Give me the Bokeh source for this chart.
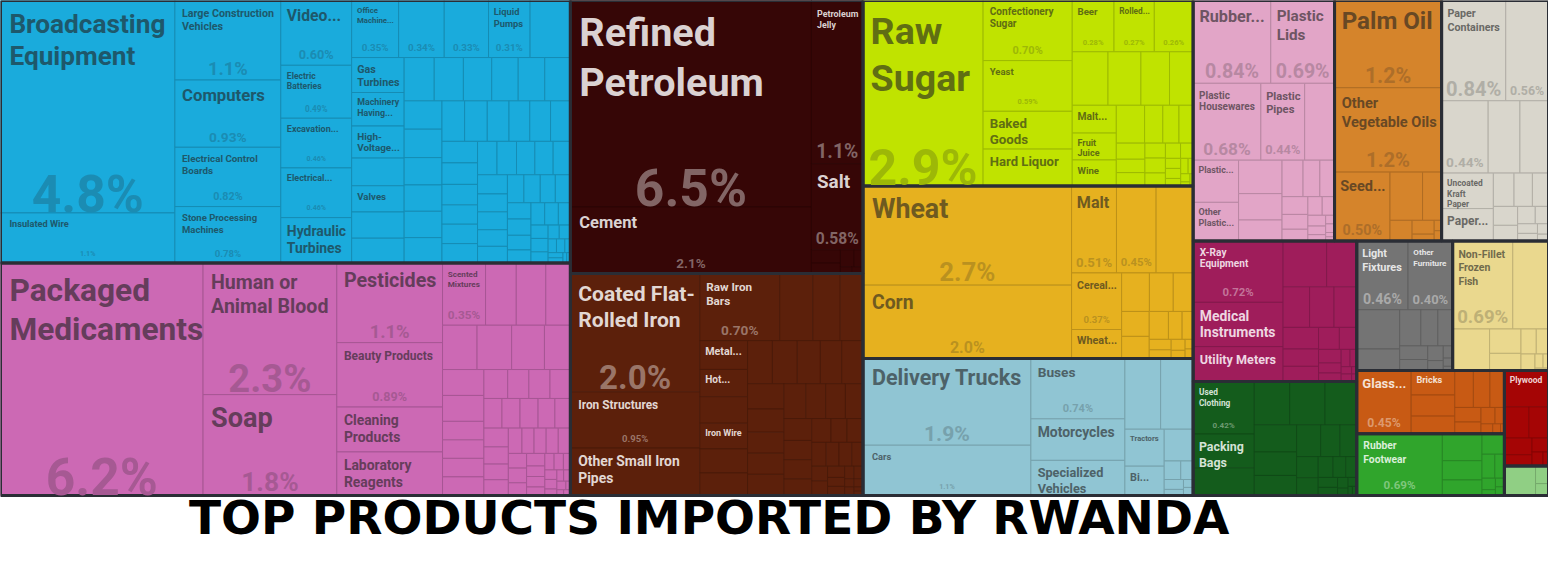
import re
from bokeh.plotting import figure
from bokeh.models import Range1d, ColumnDataSource
from bokeh.core.properties import value
from bokeh.embed import file_html
from bokeh.resources import INLINE

TITLE = "TOP PRODUCTS IMPORTED BY RWANDA"

# ---------------- data: (product, share of imports, %) ----------------
# "" = cell that shows only its share; *_small = unlabeled cells
machines_items = [("Broadcasting Equipment", 4.84), ("Insulated Wire", 1.14),
                  ("Large Construction Vehicles", 1.10), ("Computers", 0.93),
                  ("Electrical Control Boards", 0.82), ("Stone Processing Machines", 0.78),
                  ("Video...", 0.60), ("Electric Batteries", 0.49), ("Excavation...", 0.46),
                  ("Electrical...", 0.46), ("Hydraulic Turbines", 0.42), ("Office Machine...", 0.35),
                  ("", 0.34), ("", 0.33), ("Liquid Pumps", 0.31), ("Gas Turbines", 0.24),
                  ("Machinery Having...", 0.23), ("High-Voltage...", 0.22), ("Valves", 0.18)]
machines_small = [0.30, 0.19, 0.18, 0.17, 0.17, 0.165, 0.16, 0.15, 0.15, 0.145, 0.14, 0.14,
                  0.135, 0.13, 0.13, 0.125, 0.12, 0.12, 0.115, 0.11, 0.11, 0.105, 0.1, 0.1,
                  0.095, 0.09, 0.09, 0.09, 0.085, 0.085, 0.08, 0.08, 0.075, 0.075, 0.07, 0.07,
                  0.065, 0.065, 0.06, 0.06, 0.055, 0.055, 0.05, 0.05, 0.045, 0.04, 0.04, 0.04,
                  0.035, 0.03, 0.03, 0.025, 0.02, 0.02, 0.015, 0.015, 0.01, 0.01, 0.01, 0.005, 0.005]

chemicals_items = [("Packaged Medicaments", 6.15), ("Human or Animal Blood", 2.30), ("Soap", 1.76),
                   ("Pesticides", 1.10), ("Beauty Products", 0.89), ("Cleaning Products", 0.62),
                   ("Laboratory Reagents", 0.60), ("Scented Mixtures", 0.35)]
chemicals_small = [0.25, 0.24, 0.2, 0.2, 0.2, 0.19, 0.15, 0.14, 0.14, 0.1, 0.1, 0.1, 0.1, 0.09,
                   0.08, 0.08, 0.077, 0.07, 0.07, 0.07, 0.065, 0.06, 0.06, 0.055, 0.05, 0.05,
                   0.045, 0.04, 0.04, 0.04, 0.04, 0.035, 0.035, 0.03, 0.03, 0.025, 0.025, 0.02,
                   0.02, 0.02, 0.015, 0.015, 0.015, 0.01, 0.01, 0.01, 0.01, 0.005, 0.005, 0.005]

mineral_items = [("Refined Petroleum", 6.5), ("Cement", 2.1), ("Petroleum Jelly", 1.1), ("Salt", 0.58)]
mineral_small = [0.05, 0.04, 0.03, 0.02, 0.01, 0.01]

metals_items = [("Coated Flat-Rolled Iron", 2.0), ("Iron Structures", 0.95),
                ("Other Small Iron Pipes", 0.80), ("Raw Iron Bars", 0.70), ("Metal...", 0.18),
                ("Hot...", 0.17), ("Iron Wire", 0.16)]
metals_small = [0.29, 0.24, 0.2, 0.165, 0.15, 0.14, 0.14, 0.14, 0.13, 0.12, 0.12, 0.12, 0.11,
                0.1, 0.1, 0.1, 0.1, 0.09, 0.09, 0.08, 0.08, 0.07, 0.07, 0.06, 0.06, 0.05, 0.05,
                0.045, 0.04, 0.04, 0.035, 0.03, 0.03, 0.025, 0.02, 0.02, 0.015, 0.015, 0.01,
                0.01, 0.01, 0.005, 0.005]

food_items = [("Raw Sugar", 2.91), ("Confectionery Sugar", 0.70), ("Yeast", 0.59),
              ("Baked Goods", 0.44), ("Hard Liquor", 0.43), ("Beer", 0.28), ("Rolled...", 0.27),
              ("", 0.26), ("Malt...", 0.16), ("Fruit Juice", 0.155), ("Wine", 0.15)]
food_small = [0.25, 0.23, 0.2, 0.165, 0.14, 0.09, 0.08, 0.07, 0.06, 0.05, 0.05, 0.04, 0.04,
              0.035, 0.03, 0.025, 0.02, 0.02, 0.015, 0.015, 0.01, 0.01, 0.005, 0.005]

vegetable_items = [("Wheat", 2.7), ("Corn", 2.0), ("Malt", 0.51), ("", 0.45),
                   ("Cereal...", 0.37), ("Wheat...", 0.19)]
vegetable_small = [0.42, 0.14, 0.12, 0.1, 0.09, 0.08, 0.07, 0.05, 0.04, 0.03, 0.025, 0.02,
                   0.015, 0.01, 0.01]

transport_items = [("Delivery Trucks", 1.9), ("Cars", 1.1), ("Buses", 0.74), ("Motorcycles", 0.51),
                   ("Specialized Vehicles", 0.43), ("Tractors", 0.19), ("Bi...", 0.15)]
transport_small = [0.33, 0.30, 0.12, 0.04, 0.03, 0.025, 0.015, 0.01, 0.01]

plastics_items = [("Rubber...", 0.84), ("Plastic Lids", 0.69), ("Plastic Housewares", 0.68),
                  ("Plastic Pipes", 0.44), ("Plastic...", 0.25), ("Other Plastic...", 0.23)]
plastics_small = [0.30, 0.19, 0.15, 0.12, 0.1, 0.08, 0.07, 0.06, 0.05, 0.04, 0.035, 0.03,
                  0.025, 0.02, 0.015, 0.01, 0.01, 0.005, 0.005]

fats_items = [("Palm Oil", 1.22), ("Other Vegetable Oils", 1.18), ("Seed...", 0.50)]
fats_small = [0.205, 0.12, 0.06, 0.04, 0.02, 0.01, 0.01]

paper_items = [("Paper Containers", 0.84), ("", 0.56), ("", 0.44),
               ("Uncoated Kraft Paper", 0.24), ("Paper...", 0.22)]
paper_small = [0.30, 0.27, 0.09, 0.08, 0.07, 0.06, 0.05, 0.04, 0.03, 0.025, 0.02, 0.015, 0.01]

instruments_items = [("X-Ray Equipment", 0.72), ("Medical Instruments", 0.52), ("Utility Meters", 0.41)]
instruments_small = [0.26, 0.18, 0.14, 0.13, 0.12, 0.1, 0.08, 0.07, 0.06, 0.05, 0.04, 0.03,
                     0.025, 0.02, 0.015, 0.01, 0.01, 0.005, 0.005]

textiles_items = [("Used Clothing", 0.42), ("Packing Bags", 0.27)]
textiles_small = [0.22, 0.2, 0.2, 0.18, 0.15, 0.13, 0.11, 0.1, 0.08, 0.07, 0.06, 0.05, 0.04,
                  0.035, 0.03, 0.025, 0.02, 0.015, 0.01, 0.01, 0.005, 0.005]

misc_items = [("Light Fixtures", 0.46), ("Other Furniture", 0.40)]
misc_small = [0.22, 0.12, 0.1, 0.08, 0.07, 0.05, 0.04, 0.03, 0.02, 0.015, 0.01, 0.005]

animal_items = [("Non-Fillet Frozen Fish", 0.69)]
animal_small = [0.41, 0.2, 0.1, 0.07, 0.05, 0.04, 0.03, 0.015, 0.01, 0.004]

stone_items = [("Glass...", 0.45), ("Bricks", 0.14)]
stone_small = [0.12, 0.1, 0.09, 0.08, 0.07, 0.05, 0.04, 0.03, 0.02, 0.015, 0.01, 0.005]

footwear_items = [("Rubber Footwear", 0.69)]
footwear_small = [0.14, 0.1, 0.08, 0.06, 0.04, 0.03, 0.02, 0.01, 0.01, 0.01]

wood_items = [("Plywood", 0.21)]
wood_small = [0.1, 0.08, 0.06, 0.04, 0.03, 0.02, 0.01]

other_items = []
other_small = [0.12, 0.03, 0.02]

sectors = ["Machines", "Chemical Products", "Mineral Products", "Metals", "Foodstuffs",
           "Vegetable Products", "Transportation", "Plastics and Rubbers",
           "Animal and Vegetable Bi-Products", "Paper Goods", "Instruments", "Textiles",
           "Miscellaneous", "Animal Products", "Stone And Glass", "Footwear and Headwear",
           "Wood Products", "Other"]
sector_colors = ["#1aabdc", "#cc69b4", "#360606", "#5c200b", "#c0e300", "#e6b11f", "#90c5d3",
                 "#e2a5c7", "#d5842b", "#d9d6cc", "#9f1d5b", "#145c1c", "#747474", "#ead88e",
                 "#c85a14", "#30a52c", "#a50505", "#90cf84"]
sector_items = [machines_items, chemicals_items, mineral_items, metals_items, food_items,
                vegetable_items, transport_items, plastics_items, fats_items, paper_items,
                instruments_items, textiles_items, misc_items, animal_items, stone_items,
                footwear_items, wood_items, other_items]
sector_small = [machines_small, chemicals_small, mineral_small, metals_small, food_small,
                vegetable_small, transport_small, plastics_small, fats_small, paper_small,
                instruments_small, textiles_small, misc_small, animal_small, stone_small,
                footwear_small, wood_small, other_small]

# ---------------- layout (d3 squarify) ----------------
PHI = (1 + 5 ** 0.5) / 2
TW, TH = 1564.0, 500.0          # treemap extent in data units
FIG_W, FIG_H = 1548, 547
K = FIG_W / TW                  # px per data unit
FONT = "Roboto"
NARROW = 0.92


def squarify(vals, x0, y0, x1, y1):
    n = len(vals)
    rects = [None] * n
    rest = float(sum(vals))
    i0 = 0
    while i0 < n:
        dx, dy = x1 - x0, y1 - y0
        i1 = i0
        s = vals[i1]; i1 += 1
        mn = mx = s
        alpha = max(dy / dx, dx / dy) / (rest * PHI)
        beta = s * s * alpha
        best = max(mx / beta, beta / mn)
        while i1 < n:
            v = vals[i1]
            s2 = s + v
            mn2, mx2 = min(mn, v), max(mx, v)
            beta = s2 * s2 * alpha
            r = max(mx2 / beta, beta / mn2)
            if r > best:
                break
            s, mn, mx, best = s2, mn2, mx2, r
            i1 += 1
        if dx < dy:
            ny = y0 + dy * s / rest
            xx = x0
            for i in range(i0, i1):
                w = dx * vals[i] / s
                rects[i] = (xx, y0, xx + w, ny)
                xx += w
            y0 = ny
        else:
            nx = x0 + dx * s / rest
            yy = y0
            for i in range(i0, i1):
                h = dy * vals[i] / s
                rects[i] = (x0, yy, nx, yy + h)
                yy += h
            x0 = nx
        rest -= s
        i0 = i1
    return rects


UP = dict(zip("ABCDEFGHIJKLMNOPQRSTUVWXYZ",
              [722, 722, 722, 722, 667, 611, 778, 722, 278, 556, 722, 611, 833, 722, 778, 667,
               778, 722, 667, 611, 722, 667, 944, 667, 667, 611]))
LO = dict(zip("abcdefghijklmnopqrstuvwxyz",
              [556, 611, 556, 611, 556, 333, 611, 611, 278, 278, 556, 278, 889, 611, 611, 611,
               611, 389, 556, 333, 611, 556, 778, 556, 556, 500]))


def tw(s, fs):
    t = 0
    for ch in s:
        if ch in UP: t += UP[ch]
        elif ch in LO: t += LO[ch]
        elif ch in " .": t += 278
        elif ch == "%": t += 889
        elif ch == "-": t += 333
        else: t += 556
    return t * NARROW * fs / 1000.0


def wrap(toks, fs, maxw):
    lines, cur = [], ""
    for t in toks:
        if tw(t, fs) > maxw:
            return None
        cand = t if not cur else (cur + t if cur.endswith("-") else cur + " " + t)
        if tw(cand, fs) <= maxw:
            cur = cand
        else:
            lines.append(cur)
            cur = t
    if cur:
        lines.append(cur)
    return lines


def fmt(v):
    return ("%.1f%%" % v) if v >= 1 else ("%.2f%%" % v)


def rgb(h):
    return tuple(int(h[i:i + 2], 16) for i in (1, 3, 5))


def mix(c1, c2, t):
    return "#%02x%02x%02x" % tuple(int(round(a * (1 - t) + b * t)) for a, b in zip(c1, c2))


groups = []
for name, col, items, small in zip(sectors, sector_colors, sector_items, sector_small):
    leaves = [(n, v) for n, v in items] + [(None, v) for v in small]
    leaves.sort(key=lambda d: -d[1])
    groups.append((sum(v for _, v in leaves), name, col, leaves))
groups.sort(key=lambda g: -g[0])

grects = squarify([g[0] for g in groups], 0.0, 0.0, TW, TH)

leaf = dict(l=[], r=[], t=[], b=[], fill=[], line=[])
grp = dict(l=[], r=[], t=[], b=[])
nm = dict(x=[], y=[], text=[], size=[], color=[])
sh = dict(x=[], y=[], text=[], size=[], color=[])

for (tot, gname, col, leaves), (gx0, gy0, gx1, gy1) in zip(groups, grects):
    grp["l"].append(gx0); grp["r"].append(gx1); grp["t"].append(gy0); grp["b"].append(gy1)
    c = rgb(col)
    lum = 0.299 * c[0] + 0.587 * c[1] + 0.114 * c[2]
    if lum > 125:
        tcol = mix(c, (32, 32, 32), 0.6); scol = mix(c, (32, 32, 32), 0.22)
    else:
        tcol = mix(c, (255, 255, 255), 0.82); scol = mix(c, (255, 255, 255), 0.38)
    lcol = mix(c, (0, 0, 0), 0.18)
    rects = squarify([v for _, v in leaves], gx0, gy0, gx1, gy1)
    for (lname, v), (x0, y0, x1, y1) in zip(leaves, rects):
        leaf["l"].append(x0); leaf["r"].append(x1); leaf["t"].append(y0); leaf["b"].append(y1)
        leaf["fill"].append(col); leaf["line"].append(lcol)
        if lname is None:
            continue
        w, h = x1 - x0, y1 - y0
        padx = min(9.0, 4 + 0.03 * w)
        pady = min(9.0, 4 + 0.03 * h)
        stxt = fmt(v)
        sfs = min(52.0, 0.38 * h - 12)
        sfs = min(sfs, (w - 2 * padx) / max(tw(stxt, 1.0), 1e-6))
        share_on = sfs >= 7
        if share_on:
            sh["x"].append((x0 + x1) / 2)
            sh["y"].append(y1 - (0.2 * sfs + 8))
            sh["text"].append(stxt)
            sh["size"].append("%.1fpx" % (sfs * K))
            sh["color"].append(scol)
        if not lname:
            continue
        region = (0.5 * h if share_on else h) - pady - 2
        fs = min(40.0, 0.22 * h + 5)
        if share_on:
            fs = min(fs, 1.15 * sfs + 1)
        else:
            fs = min(fs, 14.0, 0.37 * h)
        toks = re.findall(r"[^\s-]+-?|-", lname)
        while fs >= 6:
            lines = wrap(toks, fs, w - 2 * padx)
            if lines and len(lines) * fs * 1.08 <= region:
                nm["x"].append(x0 + padx)
                nm["y"].append(y0 + pady)
                nm["text"].append("\n".join(lines))
                nm["size"].append("%.1fpx" % (fs * K))
                nm["color"].append(tcol)
                break
            fs -= 0.5

p = figure(width=FIG_W, height=FIG_H, x_range=Range1d(0, TW), y_range=Range1d(FIG_H / K, 0),
           toolbar_location=None, output_backend="svg", min_border=0,
           x_axis_location=None, y_axis_location=None)
p.grid.visible = False
p.outline_line_color = None
p.background_fill_color = "white"
p.border_fill_color = "white"

p.quad(left="l", right="r", top="t", bottom="b", fill_color="fill", line_color="line",
       line_width=1, source=ColumnDataSource(leaf))
p.quad(left="l", right="r", top="t", bottom="b", fill_color=None, line_color="#2a2d35",
       line_width=3, source=ColumnDataSource(grp))
p.text(x="x", y="y", text="text", text_font_size="size", text_color="color",
       text_font=value(FONT), text_font_style="bold", text_align="left", text_baseline="top",
       text_line_height=1.05, source=ColumnDataSource(nm))
p.text(x="x", y="y", text="text", text_font_size="size", text_color="color",
       text_font=value(FONT), text_font_style="bold", text_align="center",
       text_baseline="alphabetic", source=ColumnDataSource(sh))
p.text(x=[716], y=[522], text=[TITLE], text_font=value("DejaVu Sans"), text_font_style="bold",
       text_font_size="47px", text_color="black", text_align="center", text_baseline="middle")

open("out.html", "w").write(file_html(p, INLINE))
